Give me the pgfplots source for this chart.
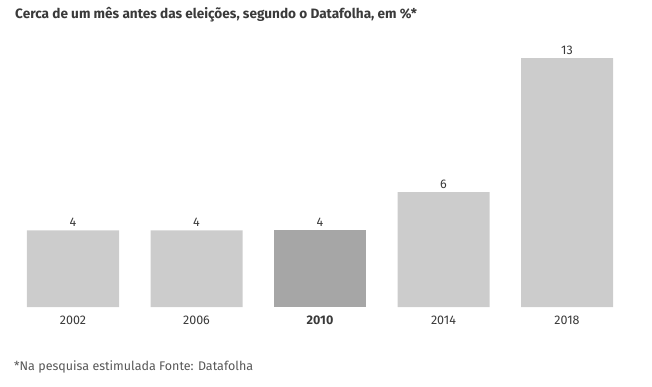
\documentclass[border=0pt]{standalone}
\usepackage{fontspec}
\setmainfont{Fira Sans}
\usepackage{pgfplots}
\pgfplotsset{compat=1.18}
\definecolor{barlight}{HTML}{CCCCCC}
\definecolor{bardark}{HTML}{A6A6A6}
\definecolor{txt}{HTML}{3A3A3A}
\begin{document}
\begin{tikzpicture}[x=1pt,y=1pt]
\path[use as bounding box] (0,0) rectangle (652,386);
\node[anchor=west,text=txt,font=\fontsize{13.6}{15}\selectfont\bfseries,inner sep=0pt] at (15,371) {Cerca de um mês antes das eleições, segundo o Datafolha, em \%*};
\node[anchor=west,text=txt!85,font=\fontsize{12.5}{14}\selectfont,inner sep=0pt] at (14,19) {*Na pesquisa estimulada Fonte: Datafolha};
\begin{axis}[
  at={(11.25pt,79pt)}, anchor=south west,
  scale only axis, width=617.5pt, height=268.1pt,
  xmin=-0.5, xmax=4.5, ymin=0, ymax=14,
  ybar, bar width=92pt, bar shift=0pt,
  xtick={0,1,2,3,4},
  xticklabels={2002,2006,\textbf{2010},2014,2018},
  ytick=\empty,
  axis line style={draw=none},
  tick style={draw=none},
  xticklabel style={font=\fontsize{12.5}{14}\selectfont, text=txt, yshift=-1pt},
  nodes near coords,
  nodes near coords style={font=\fontsize{12.5}{14}\selectfont, text=txt},
  /pgf/number format/assume math mode=true,
  clip=false,
]
\addplot[fill=barlight, draw=none] coordinates {(0,4) (1,4) (3,6) (4,13)};
\addplot[fill=bardark, draw=none] coordinates {(2,4)};
\end{axis}
\end{tikzpicture}
\end{document}
